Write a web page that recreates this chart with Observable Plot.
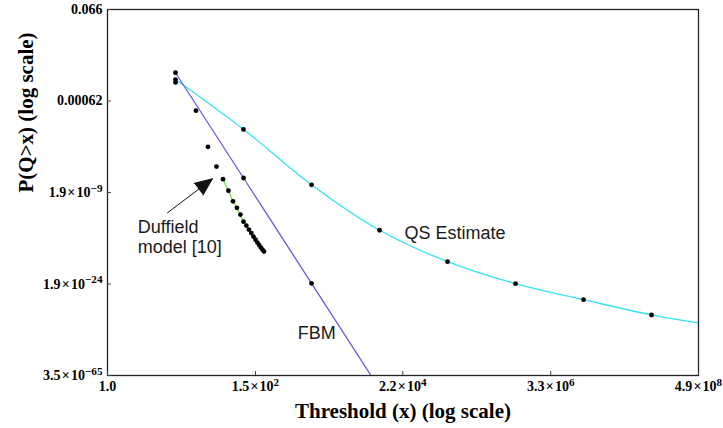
<!DOCTYPE html>
<html>
<head>
<meta charset="utf-8">
<script src="https://cdn.jsdelivr.net/npm/d3@7"></script>
<script src="https://cdn.jsdelivr.net/npm/@observablehq/plot@0.6"></script>
<style>
  body { margin: 0; background: #fff; }
</style>
</head>
<body>
<div id="chart"></div>
<script>
// ---- data (x = threshold, p = P(Q > x)) ----
const fbmX = [10, 100, 1000, 10000];
const fbmP = [4.4e-3, 3.6e-8, 2.9e-24, 3.2e-75];

const qsX = [10, 100, 1e3, 1e4, 1e5, 1e6, 1e7, 1e8];
const qsP = [2.9e-3, 4.2e-5, 9.6e-9, 6.6e-14, 2.7e-19, 2.4e-24, 7.2e-29, 5.4e-34];
const qsTailX = [4.9e8];
const qsTailP = [4.8e-37];

const duffieldX = [10, 20, 30, 40, 50, 60, 70, 80, 90, 100, 110, 120, 130, 140, 150, 160, 170, 180, 190, 200];
const duffieldP = [2.4e-3, 2.7e-4, 5.1e-6, 2.7e-7, 2.9e-8, 2.8e-9, 2.5e-10, 4.8e-11, 7.9e-12, 1.0e-12,
                   3.0e-13, 8.3e-14, 2.6e-14, 7.5e-15, 2.5e-15, 8.3e-16, 3.2e-16, 1.2e-16, 5.2e-17, 2.3e-17];
const duffieldLineFrom = 50;

const xTicks = [1, 150, 2.2e4, 3.3e6, 4.9e8];
const xTickLabels = ["1.0", "1.5\u200A×\u200A10^2", "2.2\u200A×\u200A10^4", "3.3\u200A×\u200A10^6", "4.9\u200A×\u200A10^8"];
const yTicks = [0.066, 0.00062, 1.9e-9, 1.9e-24, 3.5e-65];
const yTickLabels = ["0.066", "0.00062", "1.9\u200A×\u200A10^−9", "1.9\u200A×\u200A10^−24", "3.5\u200A×\u200A10^−65"];

const xTitle = "Threshold (x) (log scale)";
const yTitle = "P(Q>x) (log scale)";

const labelText = ["QS Estimate", "FBM", "Duffield\nmodel [10]"];
const labelX = [23300, 625, 2.79];
const labelP = [3.6e-14, 6.8e-41, 8.4e-15];
const arrowFrom = {x: 7.61, p: 1.28e-11};
const arrowTo = {x: 34.9, p: 3.1e-8};

// ---- build tables ----
const zip = (xs, ps) => xs.map((x, i) => ({x, p: ps[i]}));
const fbm = zip(fbmX, fbmP);
const qs = zip(qsX, qsP);
const qsLine = qs.concat(zip(qsTailX, qsTailP));
const duffield = zip(duffieldX, duffieldP);
const labels = labelText.map((t, i) => ({text: t, x: labelX[i], p: labelP[i]}));

// x position is ln(x) (log scale); y position is ln(-ln P) (log of the log-probability)
const xv = x => Math.log(x);
const yv = p => Math.log(-Math.log(p));
const xTickV = xTicks.map(xv);
const yTickV = yTicks.map(yv);
const nearest = (arr, v) => d3.minIndex(arr, a => Math.abs(a - v));

const sans = "'Liberation Sans', Arial, Helvetica, sans-serif";

const chart = Plot.plot({
  width: 723,
  height: 428,
  marginLeft: 107,
  marginRight: 25,
  marginTop: 9,
  marginBottom: 53,
  style: {
    fontFamily: "'Liberation Serif', 'Times New Roman', serif",
    fontSize: "14px",
    fontWeight: "bold",
    background: "white",
    color: "black"
  },
  x: {type: "linear", domain: [xTickV[0], xTickV[xTickV.length - 1]]},
  y: {type: "linear", domain: [yTickV[0], yTickV[yTickV.length - 1]], reverse: true},
  marks: [
    Plot.line(qsLine, {x: d => xv(d.x), y: d => yv(d.p), stroke: "#33e3ee", strokeWidth: 1.3, curve: "catmull-rom", clip: true}),
    Plot.line(fbm, {x: d => xv(d.x), y: d => yv(d.p), stroke: "#6b5bd8", strokeWidth: 1.3, clip: true}),
    Plot.line(duffield.filter(d => d.x >= duffieldLineFrom), {x: d => xv(d.x), y: d => yv(d.p), stroke: "#7ddc4a", strokeWidth: 1.3, clip: true}),
    Plot.dot(qs, {x: d => xv(d.x), y: d => yv(d.p), r: 2.4, fill: "black", clip: true}),
    Plot.dot(fbm, {x: d => xv(d.x), y: d => yv(d.p), r: 2.4, fill: "black", clip: true}),
    Plot.dot(duffield, {x: d => xv(d.x), y: d => yv(d.p), r: 2.4, fill: "black", clip: true}),
    Plot.frame({stroke: "#222", strokeWidth: 1.3}),
    Plot.axisX({
      ticks: xTickV,
      tickFormat: d => xTickLabels[nearest(xTickV, d)],
      tickSize: -4,
      tickPadding: 9.5,
      label: null,
      stroke: "#444"
    }),
    Plot.axisY({
      ticks: yTickV,
      tickFormat: d => yTickLabels[nearest(yTickV, d)],
      tickSize: -4,
      tickPadding: 9,
      label: null,
      stroke: "#444"
    }),
    Plot.text([xTitle], {frameAnchor: "bottom", text: d => d, dy: 42, fontSize: 21, fontWeight: "bold"}),
    Plot.text([yTitle], {frameAnchor: "left", text: d => d, dx: -81, rotate: -90, fontSize: 21, fontWeight: "bold"}),
    Plot.text(labels, {
      x: d => xv(d.x), y: d => yv(d.p), text: "text", textAnchor: "start",
      fontFamily: sans, fontWeight: "normal", fontSize: 18, lineHeight: 1.13, fill: "#1a1a1a"
    }),
    Plot.arrow([{from: arrowFrom, to: arrowTo}], {
      x1: d => xv(d.from.x), y1: d => yv(d.from.p),
      x2: d => xv(d.to.x), y2: d => yv(d.to.p),
      stroke: "#111", fill: "#111", strokeWidth: 1, headLength: 34, headAngle: 46
    })
  ]
});

// superscripts in tick labels ("1.9×10^−9")
chart.querySelectorAll("text").forEach(t => {
  const s = t.textContent;
  if (s.includes("^") && t.children.length === 0) {
    const [base, exp] = s.split("^");
    t.textContent = base;
    const ts = document.createElementNS("http://www.w3.org/2000/svg", "tspan");
    ts.setAttribute("dy", "-0.45em");
    ts.setAttribute("font-size", "0.8em");
    ts.textContent = exp;
    t.appendChild(ts);
  }
});

document.getElementById("chart").appendChild(chart);
</script>
</body>
</html>
